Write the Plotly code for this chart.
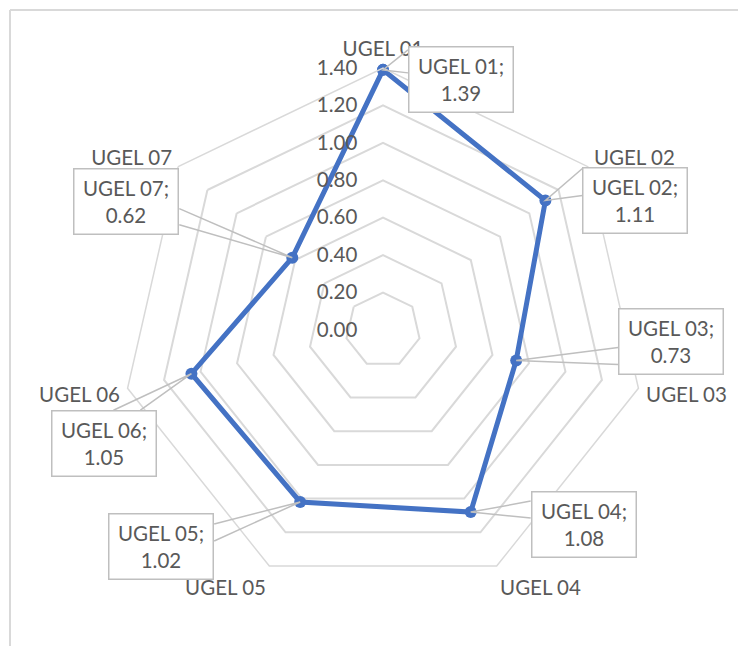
import math
import plotly.graph_objects as go

categories = ["UGEL 01", "UGEL 02", "UGEL 03", "UGEL 04", "UGEL 05", "UGEL 06", "UGEL 07"]
values = [1.39, 1.11, 0.73, 1.08, 1.02, 1.05, 0.62]
radial_ticks = [0.0, 0.2, 0.4, 0.6, 0.8, 1.0, 1.2, 1.4]

W, H = 746, 646
OFF = 8  # page offset of the figure in the browser window
CX, CY, R = 383, 330, 262
RMAX = radial_ticks[-1]
TXT = "#595959"
GRID = "#d9d9d9"
BLUE = "#4472C4"
FONT = "Lato"

# data-label box offsets (pixels, from the point to the box centre) and wedge bases
label_offsets = [(78, 10), (90, 0), (155, -19), (113, 12), (-139, 45), (-87, 70), (-166, -56)]
BW, BH = 106, 67
wedges = [("left", -30, -7), ("left", -32, -5), ("left", 6, 23), ("left", -23, -6),
          ("right", -23, -6), ("top", 9, 36), ("right", 7, 23)]


def px2paper(x, y):
    return (x - OFF) / W, 1 - (y - OFF) / H


fig = go.Figure()
fig.add_trace(go.Scatterpolar(
    r=values + values[:1], theta=categories + categories[:1],
    mode="lines+markers",
    line=dict(color=BLUE, width=5),
    marker=dict(size=12, color=BLUE),
    hoverinfo="skip", showlegend=False,
))

tl = px2paper(10, 10)
shapes = [
    dict(type="line", xref="paper", yref="paper", x0=tl[0], y0=tl[1], x1=1.1, y1=tl[1],
         line=dict(color=GRID, width=2)),
    dict(type="line", xref="paper", yref="paper", x0=tl[0], y0=tl[1], x1=tl[0], y1=-0.1,
         line=dict(color=GRID, width=2)),
]
annotations = []
n = len(categories)
for i, (cat, v) in enumerate(zip(categories, values)):
    th = math.radians(i * 360 / n)
    px = CX + R * v / RMAX * math.sin(th)
    py = CY - R * v / RMAX * math.cos(th)
    dx, dy = label_offsets[i]
    bx, by = px + dx, py + dy
    edge, a, b = wedges[i]
    if edge == "left":
        p1, p2 = (bx - BW / 2, by + a), (bx - BW / 2, by + b)
    elif edge == "right":
        p1, p2 = (bx + BW / 2, by + a), (bx + BW / 2, by + b)
    else:
        p1, p2 = (bx + a, by - BH / 2), (bx + b, by - BH / 2)
    q1 = px2paper(*p1); q0 = px2paper(px, py); q2 = px2paper(*p2)
    shapes.append(dict(type="path", xref="paper", yref="paper", layer="above",
                       path=f"M {q1[0]},{q1[1]} L {q0[0]},{q0[1]} L {q2[0]},{q2[1]}",
                       line=dict(color="#bfbfbf", width=1.5)))
    ax_, ay_ = px2paper(bx, by)
    annotations.append(dict(
        xref="paper", yref="paper", x=ax_, y=ay_, xanchor="center", yanchor="middle",
        text=f"{cat};<br>{v:.2f}", showarrow=False, align="center",
        font=dict(family=FONT, size=20.5, color=TXT),
        bgcolor="white", bordercolor="#bfbfbf", borderwidth=1.5,
        width=BW - 7, height=BH - 7, borderpad=2,
    ))

d0 = px2paper(CX - R, CY + R)
d1 = px2paper(CX + R, CY - R)
fig.update_layout(
    width=W, height=H,
    margin=dict(l=0, r=0, t=0, b=0),
    paper_bgcolor="white", plot_bgcolor="white",
    font=dict(family=FONT, size=20, color=TXT),
    polar=dict(
        domain=dict(x=[d0[0], d1[0]], y=[d0[1], d1[1]]),
        gridshape="linear",
        bgcolor="white",
        radialaxis=dict(range=[0, RMAX], tickvals=radial_ticks, tickformat=".2f",
                        angle=90, tickangle=90, side="counterclockwise",
                        showline=False, gridcolor=GRID, gridwidth=1.5,
                        ticks="outside", ticklen=18, tickcolor="rgba(0,0,0,0)",
                        tickfont=dict(family=FONT, size=20.5, color=TXT)),
        angularaxis=dict(direction="clockwise", rotation=90, showgrid=False,
                         showline=True, linecolor=GRID, linewidth=1.5,
                         ticks="outside", ticklen=3, tickcolor="rgba(0,0,0,0)",
                         tickfont=dict(family=FONT, size=20.5, color=TXT)),
    ),
    shapes=shapes,
    annotations=annotations,
)

fig.write_html("out.html")
